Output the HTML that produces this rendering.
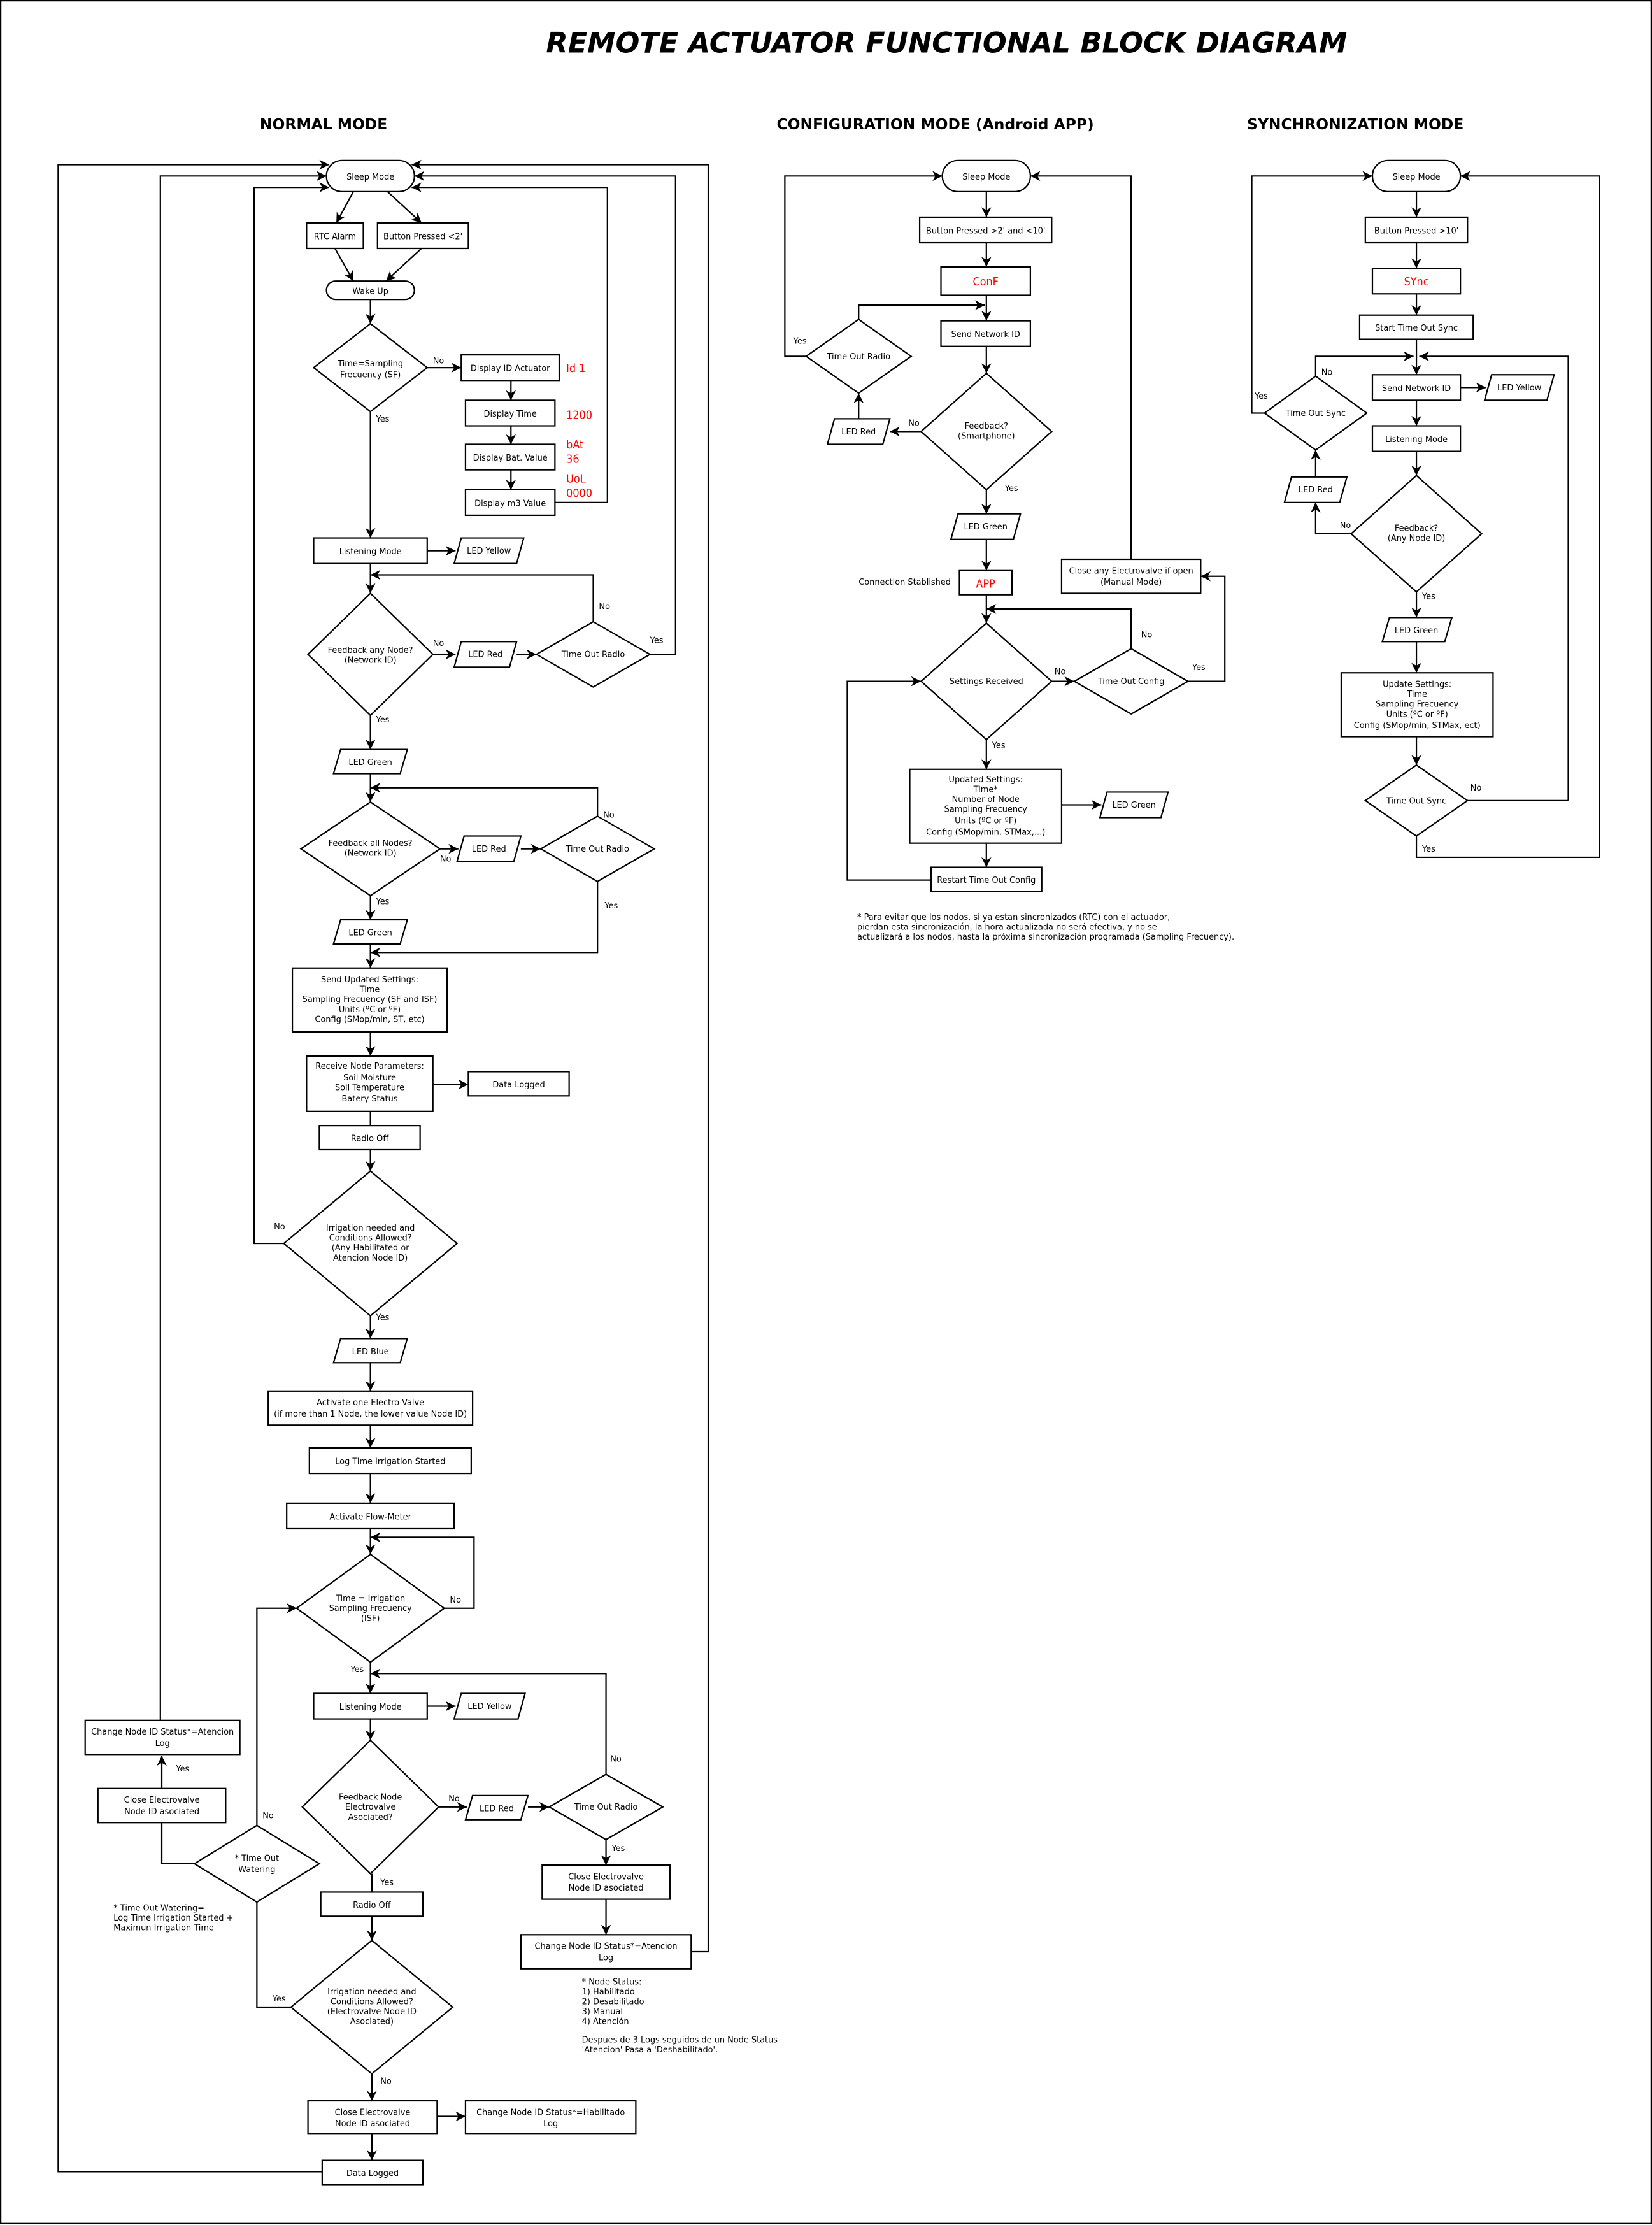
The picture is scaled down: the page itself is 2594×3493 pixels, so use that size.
<!DOCTYPE html>
<html><head><meta charset="utf-8"><style>
html,body{margin:0;padding:0;background:#fff}
svg{display:block}
.n{fill:#fff;stroke:#000;stroke-width:1}
.l{fill:none;stroke:#000;stroke-width:1}
text{font-family:"DejaVu Sans","Liberation Sans",sans-serif;font-size:5.8px;fill:#000}
.c{text-anchor:middle}
.r{font-family:"DejaVu Sans Condensed","Liberation Sans Narrow",sans-serif;fill:#f00;font-size:8px}
</style></head><body>
<svg width="2594" height="3493" viewBox="0 0 1164 1567.5" preserveAspectRatio="none" xmlns="http://www.w3.org/2000/svg">
<defs><marker id="a" markerUnits="userSpaceOnUse" markerWidth="8" markerHeight="8" refX="7" refY="3.5" orient="auto"><path d="M0,0 L7,3.5 L0,7 L2,3.5z" fill="#000"/></marker></defs>
<rect x="0.5" y="0.5" width="1163" height="1566" fill="#fff" stroke="#000" stroke-width="1"/>
<text x="667" y="37" class="c" style="font-size:20px;font-weight:bold;font-style:italic">REMOTE ACTUATOR FUNCTIONAL BLOCK DIAGRAM</text>
<text x="228" y="91" class="c" style="font-size:10.5px;font-weight:bold">NORMAL MODE</text>
<text x="659" y="91" class="c" style="font-size:10.5px;font-weight:bold">CONFIGURATION MODE (Android APP)</text>
<text x="955" y="91" class="c" style="font-size:10.5px;font-weight:bold">SYNCHRONIZATION MODE</text>

<g class="l" marker-end="url(#a)">
<path d="M249,135 L237,157"/><path d="M273,135 L297,157"/>
<path d="M236,175 L249,198"/><path d="M297,175 L272,198"/>
<path d="M261,211 L261,228"/>
<path d="M301,259 L325,259"/>
<path d="M360,268 L360,282"/><path d="M360,300 L360,313"/><path d="M360,331 L360,345"/>
<path d="M391,354 L428,354 L428,132 L290,132"/>
<path d="M261,290 L261,379"/>
<path d="M301,388 L321,388"/>
<path d="M261,397 L261,418"/>
<path d="M418,438 L418,405 L261,405"/>
<path d="M305,461 L321,461"/><path d="M364,461 L378,461"/>
<path d="M458,461 L476,461 L476,124 L292,124"/>
<path d="M261,504 L261,528"/><path d="M261,545 L261,565"/>
<path d="M421,575 L421,555 L261,555"/>
<path d="M310,598 L323,598"/><path d="M367,598 L381,598"/>
<path d="M421,621 L421,671 L261,671"/>
<path d="M261,631 L261,648"/><path d="M261,665 L261,682"/>
<path d="M261,727 L261,744"/>
<path d="M305,764 L330,764"/>
<path d="M261,810 L261,825"/>
<path d="M200,876 L179,876 L179,132 L232,132"/>
<path d="M261,927 L261,943"/><path d="M261,960 L261,980"/>
<path d="M261,1004 L261,1020"/><path d="M261,1038 L261,1059"/>
<path d="M261,1077 L261,1095"/>
<path d="M313,1133 L334,1133 L334,1083 L261,1083"/>
<path d="M261,1171 L261,1193"/>
<path d="M301,1202 L321,1202"/>
<path d="M261,1211 L261,1226"/>
<path d="M427,1250 L427,1179 L261,1179"/>
<path d="M309,1273 L329,1273"/><path d="M372,1273 L387,1273"/>
<path d="M427,1296 L427,1314"/><path d="M427,1338 L427,1363"/>
<path d="M487,1375 L499,1375 L499,116 L290,116"/>
<path d="M262,1350 L262,1367"/>
<path d="M262,1461 L262,1480"/>
<path d="M308,1491 L328,1491"/>
<path d="M262,1503 L262,1522"/>
<path d="M227,1530 L41,1530 L41,116 L232,116"/>
<path d="M181,1286 L181,1133 L209,1133"/>
<path d="M114,1260 L114,1237"/>
<path d="M113,1212 L113,124 L230,124"/>
</g>
<g class="l"><path d="M262,1320 L262,1333"/><path d="M261,783 L261,793"/><path d="M205,1414 L181,1414 L181,1340"/><path d="M137,1313 L114,1313 L114,1284"/></g>

<rect class="n" x="230" y="113" width="62" height="22" rx="11"/><text class="c" x="261" y="126.5">Sleep Mode</text>
<rect class="n" x="216" y="157" width="40" height="18"/><text class="c" x="236" y="168.5">RTC Alarm</text>
<rect class="n" x="266" y="157" width="64" height="18"/><text class="c" x="298" y="168.5">Button Pressed &lt;2'</text>
<rect class="n" x="230" y="198" width="62" height="13" rx="6.5"/><text class="c" x="261" y="207">Wake Up</text>
<polygon class="n" points="261,228 301,259 261,290 221,259"/><text class="c" x="261" y="258">Time=Sampling</text><text class="c" x="261" y="266">Frecuency (SF)</text>
<text x="305" y="256">No</text><text x="265" y="297">Yes</text>
<rect class="n" x="325" y="250" width="69" height="18"/><text class="c" x="359.5" y="261.5">Display ID Actuator</text>
<rect class="n" x="328" y="282" width="63" height="18"/><text class="c" x="359.5" y="293.5">Display Time</text>
<rect class="n" x="328" y="313" width="63" height="18"/><text class="c" x="359.5" y="324.5">Display Bat. Value</text>
<rect class="n" x="328" y="345" width="63" height="18"/><text class="c" x="359.5" y="356.5">Display m3 Value</text>
<text class="r" x="399" y="262">Id   1</text><text class="r" x="399" y="295">1200</text>
<text class="r" x="399" y="316">bAt</text><text class="r" x="399" y="326">36</text>
<text class="r" x="399" y="340">UoL</text><text class="r" x="399" y="350">0000</text>
<rect class="n" x="221" y="379" width="80" height="18"/><text class="c" x="261" y="390.5">Listening Mode</text>
<polygon class="n" points="325,379 369,379 364,397 320,397"/><text class="c" x="344.5" y="390">LED Yellow</text>
<polygon class="n" points="261,418 305,461 261,504 217,461"/><text class="c" x="261" y="460">Feedback any Node?</text><text class="c" x="261" y="467">(Network ID)</text>
<text x="305" y="455">No</text><text x="265" y="509">Yes</text>
<polygon class="n" points="325,452 364,452 359,470 320,470"/><text class="c" x="342" y="463">LED Red</text>
<polygon class="n" points="418,438 458,461 418,484 378,461"/><text class="c" x="418" y="463">Time Out Radio</text>
<text x="422" y="429">No</text><text x="458" y="453">Yes</text>
<polygon class="n" points="240,528 287,528 282,545 235,545"/><text class="c" x="261" y="539">LED Green</text>
<polygon class="n" points="261,565 310,598 261,631 212,598"/><text class="c" x="261" y="596">Feedback all Nodes?</text><text class="c" x="261" y="603">(Network ID)</text>
<text x="310" y="607">No</text><text x="265" y="637">Yes</text>
<polygon class="n" points="327,589 367,589 362,607 322,607"/><text class="c" x="344.5" y="600">LED Red</text>
<polygon class="n" points="421,575 461,598 421,621 381,598"/><text class="c" x="421" y="600">Time Out Radio</text>
<text x="425" y="576">No</text><text x="426" y="640">Yes</text>
<polygon class="n" points="240,648 287,648 282,665 235,665"/><text class="c" x="261" y="659">LED Green</text>
<rect class="n" x="206" y="682" width="109" height="45"/>
<text class="c" x="260.5" y="692">Send Updated Settings:</text><text class="c" x="260.5" y="699">Time</text><text class="c" x="260.5" y="706">Sampling Frecuency (SF and ISF)</text><text class="c" x="260.5" y="713">Units (ºC or ºF)</text><text class="c" x="260.5" y="720">Config (SMop/min, ST, etc)</text>
<rect class="n" x="216" y="744" width="89" height="39"/>
<text class="c" x="260.5" y="753">Receive Node Parameters:</text><text class="c" x="260.5" y="761">Soil Moisture</text><text class="c" x="260.5" y="768">Soil Temperature</text><text class="c" x="260.5" y="776">Batery Status</text>
<rect class="n" x="330" y="755" width="71" height="17"/><text class="c" x="365.5" y="766">Data Logged</text>
<rect class="n" x="225" y="793" width="71" height="17"/><text class="c" x="260.5" y="804">Radio Off</text>
<polygon class="n" points="261,825 322,876 261,927 200,876"/>
<text class="c" x="261" y="867">Irrigation needed and</text><text class="c" x="261" y="874">Conditions Allowed?</text><text class="c" x="261" y="881">(Any Habilitated or</text><text class="c" x="261" y="888">Atencion Node ID)</text>
<text x="193" y="866">No</text><text x="265" y="930">Yes</text>
<polygon class="n" points="240,943 287,943 282,960 235,960"/><text class="c" x="261" y="954">LED Blue</text>
<rect class="n" x="189" y="980" width="144" height="24"/><text class="c" x="261" y="990">Activate one Electro-Valve</text><text class="c" x="261" y="998">(if more than 1 Node, the lower value Node ID)</text>
<rect class="n" x="218" y="1020" width="114" height="18"/><text class="c" x="275" y="1031.5">Log Time Irrigation Started</text>
<rect class="n" x="202" y="1059" width="118" height="18"/><text class="c" x="261" y="1070.5">Activate Flow-Meter</text>
<polygon class="n" points="261,1095 313,1133 261,1171 209,1133"/><text class="c" x="261" y="1128">Time = Irrigation</text><text class="c" x="261" y="1135">Sampling Frecuency</text><text class="c" x="261" y="1142">(ISF)</text>
<text x="317" y="1129">No</text><text x="247" y="1178">Yes</text>
<rect class="n" x="221" y="1193" width="80" height="18"/><text class="c" x="261" y="1204.5">Listening Mode</text>
<polygon class="n" points="325,1193 370,1193 365,1211 320,1211"/><text class="c" x="345" y="1204">LED Yellow</text>
<polygon class="n" points="261,1226 309,1273 261,1320 213,1273"/><text class="c" x="261" y="1268">Feedback Node</text><text class="c" x="261" y="1275">Electrovalve</text><text class="c" x="261" y="1282">Asociated?</text>
<text x="316" y="1269">No</text><text x="268" y="1328">Yes</text>
<polygon class="n" points="333,1265 372,1265 367,1282 328,1282"/><text class="c" x="350" y="1276">LED Red</text>
<polygon class="n" points="427,1250 467,1273 427,1296 387,1273"/><text class="c" x="427" y="1275">Time Out Radio</text>
<text x="430" y="1241">No</text><text x="431" y="1304">Yes</text>
<rect class="n" x="382" y="1314" width="90" height="24"/><text class="c" x="427" y="1324">Close Electrovalve</text><text class="c" x="427" y="1332">Node ID asociated</text>
<rect class="n" x="367" y="1363" width="120" height="24"/><text class="c" x="427" y="1373">Change Node ID Status*=Atencion</text><text class="c" x="427" y="1381">Log</text>
<rect class="n" x="226" y="1333" width="72" height="17"/><text class="c" x="262" y="1344">Radio Off</text>
<polygon class="n" points="262,1367 319,1414 262,1461 205,1414"/>
<text class="c" x="262" y="1405">Irrigation needed and</text><text class="c" x="262" y="1412">Conditions Allowed?</text><text class="c" x="262" y="1419">(Electrovalve Node ID</text><text class="c" x="262" y="1426">Asociated)</text>
<text x="192" y="1410">Yes</text><text x="268" y="1468">No</text>
<rect class="n" x="217" y="1480" width="91" height="23"/><text class="c" x="262.5" y="1490">Close Electrovalve</text><text class="c" x="262.5" y="1498">Node ID asociated</text>
<rect class="n" x="328" y="1480" width="120" height="23"/><text class="c" x="388" y="1490">Change Node ID Status*=Habilitado</text><text class="c" x="388" y="1498">Log</text>
<rect class="n" x="227" y="1522" width="71" height="17"/><text class="c" x="262.5" y="1533">Data Logged</text>
<polygon class="n" points="181,1286 225,1313 181,1340 137,1313"/><text class="c" x="181" y="1311">* Time Out</text><text class="c" x="181" y="1319">Watering</text>
<text x="185" y="1281">No</text><text x="124" y="1248">Yes</text>
<rect class="n" x="69" y="1260" width="90" height="24"/><text class="c" x="114" y="1270">Close Electrovalve</text><text class="c" x="114" y="1278">Node ID asociated</text>
<rect class="n" x="60" y="1212" width="109" height="24"/><text class="c" x="114.5" y="1222">Change Node ID Status*=Atencion</text><text class="c" x="114.5" y="1230">Log</text>
<text x="80" y="1346">* Time Out Watering=</text><text x="80" y="1353">Log Time Irrigation Started +</text><text x="80" y="1360">Maximun Irrigation Time</text>
<text x="410" y="1398">* Node Status:</text><text x="410" y="1405">1) Habilitado</text><text x="410" y="1412">2) Desabilitado</text><text x="410" y="1419">3) Manual</text><text x="410" y="1426">4) Atención</text>
<text x="410" y="1439">Despues de 3 Logs seguidos de un Node Status</text><text x="410" y="1446">'Atencion' Pasa a 'Deshabilitado'.</text>

<g class="l" marker-end="url(#a)">
<path d="M568,251 L553,251 L553,124 L664,124"/>
<path d="M695,135 L695,153"/><path d="M695,171 L695,188"/><path d="M695,208 L695,226"/>
<path d="M605,225 L605,215 L694,215"/>
<path d="M695,244 L695,263"/>
<path d="M649,304 L627,304"/>
<path d="M605,295 L605,277"/>
<path d="M695,345 L695,362"/><path d="M695,380 L695,402"/>
<path d="M695,419 L695,439"/>
<path d="M797,394 L797,124 L726,124"/>
<path d="M797,457 L797,429 L695,429"/>
<path d="M741,480 L757,480"/>
<path d="M837,480 L863,480 L863,406 L846,406"/>
<path d="M695,521 L695,542"/>
<path d="M748,567 L776,567"/>
<path d="M695,594 L695,611"/>
<path d="M656,620 L597,620 L597,480 L649,480"/>
</g>
<rect class="n" x="664" y="113" width="62" height="22" rx="11"/><text class="c" x="695" y="126.5">Sleep Mode</text>
<rect class="n" x="648" y="153" width="93" height="18"/><text class="c" x="694.5" y="164.5">Button Pressed &gt;2' and &lt;10'</text>
<rect class="n" x="663" y="188" width="63" height="20"/><text class="r c" x="694.5" y="201">ConF</text>
<rect class="n" x="663" y="226" width="63" height="18"/><text class="c" x="694.5" y="237.5">Send Network ID</text>
<polygon class="n" points="605,225 642,251 605,277 568,251"/><text class="c" x="605" y="253">Time Out Radio</text>
<text x="559" y="242">Yes</text>
<polygon class="n" points="695,263 741,304 695,345 649,304"/><text class="c" x="695" y="302">Feedback?</text><text class="c" x="695" y="309">(Smartphone)</text>
<text x="640" y="300">No</text><text x="708" y="346">Yes</text>
<polygon class="n" points="588,295 627,295 622,313 583,313"/><text class="c" x="605" y="306">LED Red</text>
<polygon class="n" points="675,362 719,362 714,380 670,380"/><text class="c" x="694.5" y="373">LED Green</text>
<text x="605" y="412">Connection Stablished</text>
<rect class="n" x="676" y="402" width="37" height="17"/><text class="r c" x="694.5" y="414">APP</text>
<rect class="n" x="748" y="394" width="98" height="24"/><text class="c" x="797" y="404">Close any Electrovalve if open</text><text class="c" x="797" y="412">(Manual Mode)</text>
<polygon class="n" points="695,439 741,480 695,521 649,480"/><text class="c" x="695" y="482">Settings Received</text>
<text x="743" y="475">No</text><text x="699" y="527">Yes</text>
<polygon class="n" points="797,457 837,480 797,503 757,480"/><text class="c" x="797" y="482">Time Out Config</text>
<text x="804" y="449">No</text><text x="840" y="472">Yes</text>
<rect class="n" x="641" y="542" width="107" height="52"/>
<text class="c" x="694.5" y="551">Updated Settings:</text><text class="c" x="694.5" y="558">Time*</text><text class="c" x="694.5" y="565">Number of Node</text><text class="c" x="694.5" y="572">Sampling Frecuency</text><text class="c" x="694.5" y="580">Units (ºC or ºF)</text><text class="c" x="694.5" y="588">Config (SMop/min, STMax,...)</text>
<polygon class="n" points="780,558 823,558 818,576 775,576"/><text class="c" x="799" y="569">LED Green</text>
<rect class="n" x="656" y="611" width="78" height="17"/><text class="c" x="695" y="622">Restart Time Out Config</text>
<text x="604" y="648">* Para evitar que los nodos, si ya estan sincronizados (RTC) con el actuador,</text>
<text x="604" y="655">pierdan esta sincronización, la hora actualizada no será efectiva, y no se</text>
<text x="604" y="662">actualizará a los nodos, hasta la próxima sincronización programada (Sampling Frecuency).</text>

<g class="l" marker-end="url(#a)">
<path d="M891,291 L882,291 L882,124 L967,124"/>
<path d="M998,135 L998,153"/><path d="M998,171 L998,189"/><path d="M998,207 L998,222"/>
<path d="M998,239 L998,264"/>
<path d="M927,265 L927,251 L996,251"/>
<path d="M1105,564 L1105,251 L1000,251"/>
<path d="M1029,273 L1047,273"/>
<path d="M998,282 L998,300"/><path d="M998,318 L998,335"/>
<path d="M952,376 L927,376 L927,354"/>
<path d="M927,336 L927,317"/>
<path d="M998,417 L998,435"/><path d="M998,452 L998,474"/>
<path d="M998,519 L998,539"/>
<path d="M998,589 L998,604 L1127,604 L1127,124 L1029,124"/>
</g>
<line class="l" x1="1034" y1="564" x2="1105" y2="564"/>
<rect class="n" x="967" y="113" width="62" height="22" rx="11"/><text class="c" x="998" y="126.5">Sleep Mode</text>
<rect class="n" x="962" y="153" width="72" height="18"/><text class="c" x="998" y="164.5">Button Pressed &gt;10'</text>
<rect class="n" x="967" y="189" width="62" height="18"/><text class="r c" x="998" y="201">SYnc</text>
<rect class="n" x="958" y="222" width="80" height="17"/><text class="c" x="998" y="233">Start Time Out Sync</text>
<rect class="n" x="967" y="264" width="62" height="18"/><text class="c" x="998" y="275.5">Send Network ID</text>
<polygon class="n" points="1051,264 1095,264 1090,282 1046,282"/><text class="c" x="1070.5" y="275">LED Yellow</text>
<polygon class="n" points="927,265 963,291 927,317 891,291"/><text class="c" x="927" y="293">Time Out Sync</text>
<text x="931" y="264">No</text><text x="884" y="281">Yes</text>
<rect class="n" x="967" y="300" width="62" height="18"/><text class="c" x="998" y="311.5">Listening Mode</text>
<polygon class="n" points="910,336 949,336 944,354 905,354"/><text class="c" x="927" y="347">LED Red</text>
<polygon class="n" points="998,335 1044,376 998,417 952,376"/><text class="c" x="998" y="374">Feedback?</text><text class="c" x="998" y="381">(Any Node ID)</text>
<text x="944" y="372">No</text><text x="1002" y="422">Yes</text>
<polygon class="n" points="979,435 1023,435 1018,452 974,452"/><text class="c" x="998" y="446">LED Green</text>
<rect class="n" x="945" y="474" width="107" height="45"/>
<text class="c" x="998.5" y="484">Update Settings:</text><text class="c" x="998.5" y="491">Time</text><text class="c" x="998.5" y="498">Sampling Frecuency</text><text class="c" x="998.5" y="505">Units (ºC or ºF)</text><text class="c" x="998.5" y="513">Config (SMop/min, STMax, ect)</text>
<polygon class="n" points="998,539 1034,564 998,589 962,564"/><text class="c" x="998" y="566">Time Out Sync</text>
<text x="1036" y="557">No</text><text x="1002" y="600">Yes</text>
</svg>
</body></html>
